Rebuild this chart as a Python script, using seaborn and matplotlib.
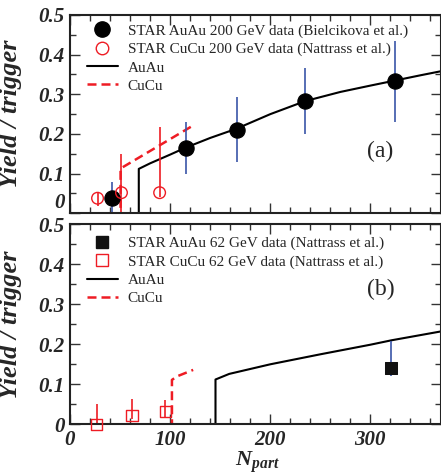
import numpy as np
import pandas as pd
import matplotlib
matplotlib.use("Agg")
import matplotlib.pyplot as plt
import seaborn as sns
from matplotlib.lines import Line2D
from matplotlib.ticker import MultipleLocator

sns.set_style("ticks")
plt.rcParams['font.family'] = ['Liberation Serif', 'DejaVu Serif']
plt.rcParams['mathtext.fontset'] = 'custom'
plt.rcParams['mathtext.bf'] = 'Liberation Serif:italic:bold'
plt.rcParams['mathtext.rm'] = 'Liberation Serif'
plt.rcParams['mathtext.it'] = 'Liberation Serif:italic'

# ---- Panel (a): 200 GeV ----
auau200_npart = [41.5, 115.4, 166.5, 235.0, 325.0]
auau200_yield = [0.039, 0.164, 0.211, 0.283, 0.333]
auau200_err = [0.040, 0.066, 0.082, 0.083, 0.102]

cucu200_npart = [27.5, 51.4, 89.5]
cucu200_yield = [0.038, 0.052, 0.052]
cucu200_err_lo = [0.020, 0.100, 0.010]
cucu200_err_hi = [0.015, 0.098, 0.165]

auau200_th_x = [0, 68.7, 68.7, 80, 100, 115, 140, 166, 200, 235, 270, 300, 325, 350, 370]
auau200_th_y = [0, 0, 0.112, 0.126, 0.148, 0.165, 0.190, 0.213, 0.250, 0.283, 0.306, 0.322, 0.335, 0.348, 0.358]
cucu200_th_x = [0, 50.5, 50.5, 122]
cucu200_th_y = [0, 0, 0.113, 0.220]

# ---- Panel (b): 62 GeV ----
auau62_npart = [321]
auau62_yield = [0.140]
auau62_err_lo = [0.020]
auau62_err_hi = [0.068]

cucu62_npart = [26.5, 62.0, 95.2]
cucu62_yield = [0.000, 0.023, 0.031]
cucu62_err_lo = [0.000, 0.010, 0.015]
cucu62_err_hi = [0.052, 0.040, 0.029]

auau62_th_x = [0, 145.3, 145.3, 159, 200, 250, 300, 321, 370]
auau62_th_y = [0, 0, 0.112, 0.126, 0.150, 0.175, 0.199, 0.210, 0.232]
cucu62_th_x = [0, 101.8, 101.8, 107, 123]
cucu62_th_y = [0, 0, 0.111, 0.120, 0.136]

panel_labels = ["(a)", "(b)"]
xticks = [0, 100, 200, 300]
yticks = [0, 0.1, 0.2, 0.3, 0.4, 0.5]
ytick_labels = ['0', '0.1', '0.2', '0.3', '0.4', '0.5']

W, H = 441, 476
fig = plt.figure(figsize=(W / 100, H / 100), dpi=100)
L = 70 / W
R = 440.5 / W
ax1 = fig.add_axes([L, 1 - 213.3 / H, R - L, (213.3 - 15) / H])
ax2 = fig.add_axes([L, 1 - 424.3 / H, R - L, (424.3 - 224.3) / H])

blue = '#3a55a8'
red = '#ee1c24'
dash = (0, (3.6, 2.0))

tickfont = dict(family='Liberation Serif', weight='bold', style='italic', size=15)
legfont = dict(family='Liberation Serif', size=11)


def style_axes(ax, show_xlabels):
    ax.set_xlim(0, 370)
    ax.set_ylim(0, 0.5)
    ax.xaxis.set_major_locator(MultipleLocator(100))
    ax.xaxis.set_minor_locator(MultipleLocator(20))
    ax.yaxis.set_major_locator(MultipleLocator(0.1))
    ax.yaxis.set_minor_locator(MultipleLocator(0.05))
    ax.tick_params(which='both', direction='in', top=True, right=True, width=1.0, color='#333333')
    ax.tick_params(which='major', length=7, pad=4)
    ax.tick_params(which='minor', length=4)
    for s in ax.spines.values():
        s.set_linewidth(1.5)
        s.set_color('#222222')
        s.set_visible(True)
    ax.set_yticks(yticks)
    ax.set_yticklabels(ytick_labels, fontdict=tickfont)
    ax.set_xticks(xticks)
    if show_xlabels:
        ax.set_xticklabels([str(t) for t in xticks], fontdict=tickfont)
    else:
        ax.set_xticklabels([])
    ax.set_ylabel('Yield / trigger', fontdict=dict(family='Liberation Serif', weight='bold',
                                                   style='italic', size=19))
    ax.set_xlabel('')
    ax.yaxis.set_label_coords(-0.13, 0.5)


def add_legend(ax, handles, labels, top):
    ax.legend(handles, labels, loc='upper left', frameon=False, prop=legfont, handlelength=2.0,
              handletextpad=0.65, labelspacing=0.3, borderaxespad=0.0, borderpad=0.0,
              bbox_to_anchor=(0.046, top))


# ---- top panel ----
sns.lineplot(x=auau200_th_x, y=auau200_th_y, estimator=None, sort=False, ax=ax1,
             color='black', linewidth=1.5)
sns.lineplot(x=cucu200_th_x, y=cucu200_th_y, estimator=None, sort=False, ax=ax1,
             color=red, linewidth=1.8, linestyle=dash)
ax1.errorbar(auau200_npart, auau200_yield, yerr=auau200_err, fmt='none', ecolor=blue, elinewidth=1.2)
ax1.errorbar(cucu200_npart, cucu200_yield, yerr=[cucu200_err_lo, cucu200_err_hi], fmt='none',
             ecolor=red, elinewidth=1.2)
sns.scatterplot(x=auau200_npart, y=auau200_yield, ax=ax1, color='black', s=120, marker='o',
                edgecolor='black', zorder=5)
ax1.scatter(cucu200_npart, cucu200_yield, s=70, marker='o', facecolors='none', edgecolors=red,
            linewidths=1.0, zorder=5)
style_axes(ax1, False)
ax1.get_yticklabels()[0].set_verticalalignment('bottom')
ax1.text(310, 0.156, panel_labels[0], fontsize=17, family='Liberation Serif', ha='center', va='center')

h1 = [Line2D([], [], marker='o', color='black', linestyle='none', markersize=11),
      Line2D([], [], marker='o', markerfacecolor='none', markeredgecolor=red, linestyle='none', markersize=9),
      Line2D([], [], color='black', linewidth=1.5),
      Line2D([], [], color=red, linewidth=1.8, linestyle=dash)]
l1 = ['STAR AuAu 200 GeV data (Bielcikova et al.)', 'STAR CuCu 200 GeV data (Nattrass et al.)',
      'AuAu', 'CuCu']
add_legend(ax1, h1, l1, 0.955)

# ---- bottom panel ----
sns.lineplot(x=auau62_th_x, y=auau62_th_y, estimator=None, sort=False, ax=ax2,
             color='black', linewidth=1.5)
sns.lineplot(x=cucu62_th_x, y=cucu62_th_y, estimator=None, sort=False, ax=ax2,
             color=red, linewidth=1.8, linestyle=dash)
ax2.errorbar(auau62_npart, auau62_yield, yerr=[auau62_err_lo, auau62_err_hi], fmt='none',
             ecolor=blue, elinewidth=1.2)
ax2.errorbar(cucu62_npart, cucu62_yield, yerr=[cucu62_err_lo, cucu62_err_hi], fmt='none',
             ecolor=red, elinewidth=1.2)
sns.scatterplot(x=auau62_npart, y=auau62_yield, ax=ax2, color='#111111', s=85, marker='s',
                edgecolor='#111111', zorder=5)
ax2.scatter(cucu62_npart, cucu62_yield, s=65, marker='s', facecolors='none', edgecolors=red,
            linewidths=1.0, zorder=5, clip_on=False)
style_axes(ax2, True)
ax2.text(310, 0.338, panel_labels[1], fontsize=17, family='Liberation Serif', ha='center', va='center')
ax2.set_xlabel(r'$\mathbf{N_{part}}$', fontsize=16)
ax2.xaxis.set_label_coords(0.506, -0.125)

h2 = [Line2D([], [], marker='s', color='#111111', linestyle='none', markersize=8.5),
      Line2D([], [], marker='s', markerfacecolor='none', markeredgecolor=red, linestyle='none', markersize=8.5),
      Line2D([], [], color='black', linewidth=1.5),
      Line2D([], [], color=red, linewidth=1.8, linestyle=dash)]
l2 = ['STAR AuAu 62 GeV data (Nattrass et al.)', 'STAR CuCu 62 GeV data (Nattrass et al.)',
      'AuAu', 'CuCu']
add_legend(ax2, h2, l2, 0.94)

fig.savefig('out.png', dpi=100)
